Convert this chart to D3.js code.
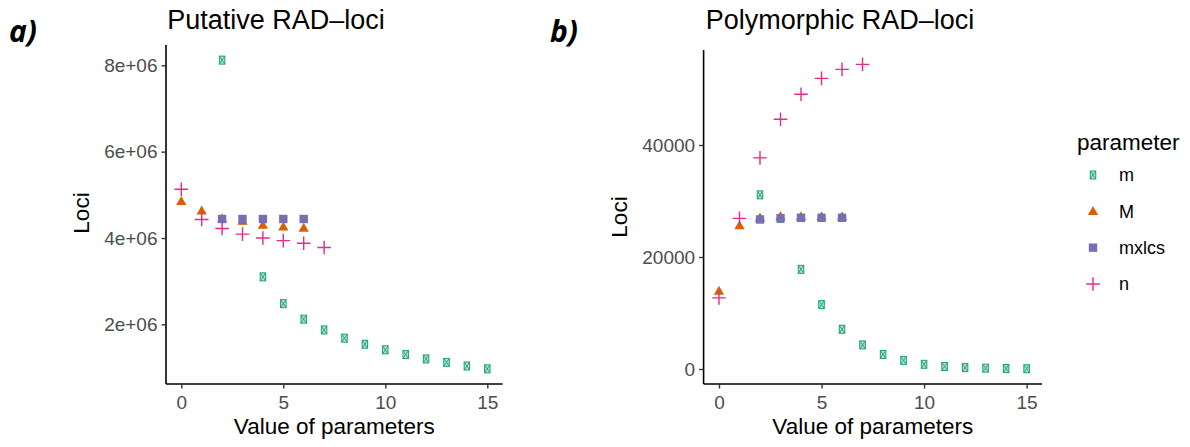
<!DOCTYPE html>
<html><head><meta charset="utf-8">
<script src="https://cdn.jsdelivr.net/npm/d3@7"></script>
<style>body{margin:0;background:#fff}svg{display:block}text{font-family:"Liberation Sans",Arial,sans-serif}</style>
</head><body><svg id="c" width="1190" height="447"></svg>
<script>
const parameters = ["m","M","mxlcs","n"];
const colors = ["#1B9E77","#D95F02","#7570B3","#E7298A"];
// Panel a: Putative RAD-loci
const putM_x = [2,3,4,5,6,7,8,9,10,11,12,13,14,15];
const putM_y = [8.12e6,4.42e6,3.10e6,2.48e6,2.12e6,1.87e6,1.68e6,1.54e6,1.41e6,1.30e6,1.20e6,1.12e6,1.035e6,0.97e6];
const putMM_x = [0,1,2,3,4,5,6];
const putMM_y = [4.85e6,4.63e6,4.45e6,4.39e6,4.30e6,4.26e6,4.23e6];
const putMx_x = [2,3,4,5,6];
const putMx_y = [4.44e6,4.44e6,4.44e6,4.44e6,4.44e6];
const putN_x = [0,1,2,3,4,5,6,7];
const putN_y = [5.13e6,4.43e6,4.22e6,4.09e6,4.0e6,3.94e6,3.88e6,3.78e6];
// Panel b: Polymorphic RAD-loci
const polM_x = [2,3,4,5,6,7,8,9,10,11,12,13,14,15];
const polM_y = [31100,26900,17800,11500,7100,4300,2600,1550,840,450,250,150,80,50];
const polMM_x = [0,1,2,3,4,5,6];
const polMM_y = [13900,25600,27000,27200,27200,27200,27200];
const polMx_x = [2,3,4,5,6];
const polMx_y = [26700,26900,27000,27000,27000];
const polN_x = [0,1,2,3,4,5,6,7];
const polN_y = [12700,26900,37700,44600,49050,51900,53500,54400];

const xTicks = [0,5,10,15];
const yTicksA = [2e6,4e6,6e6,8e6];
const yTicksALabels = ["2e+06","4e+06","6e+06","8e+06"];
const yTicksB = [0,20000,40000];
const yTicksBLabels = ["0","20000","40000"];

const svg = d3.select("#c");
const zip = (xs, ys) => xs.map((x,i)=>({x, y: ys[i]}));

function marker(g, type, color, px, py){
  if(type==="m"){
    const w=5.5,h=8;
    g.append("rect").attr("x",px-w/2).attr("y",py-h/2).attr("width",w).attr("height",h)
      .attr("fill","#b5e2d3").attr("stroke",color).attr("stroke-width",1);
    g.append("path").attr("d",`M${px-w/2},${py-h/2}L${px+w/2},${py+h/2}M${px+w/2},${py-h/2}L${px-w/2},${py+h/2}`)
      .attr("stroke",color).attr("stroke-width",0.9).attr("fill","none");
  } else if(type==="M"){
    const s=4.9;
    g.append("path").attr("d",`M${px},${py-s*1.1}L${px+s*1.05},${py+s*0.75}L${px-s*1.05},${py+s*0.75}Z`).attr("fill",color);
  } else if(type==="mxlcs"){
    const s=8.4;
    g.append("rect").attr("x",px-s/2).attr("y",py-s/2).attr("width",s).attr("height",s).attr("fill",color);
  } else {
    const s=6.8;
    g.append("path").attr("d",`M${px-s},${py}L${px+s},${py}M${px},${py-s}L${px},${py+s}`)
      .attr("stroke",color).attr("stroke-width",1.4).attr("fill","none");
  }
}

function panel(opt){
  const g = svg.append("g");
  const x = d3.scaleLinear().domain([-0.75,15.75]).range(opt.xr);
  const y = d3.scaleLinear().domain(opt.yd).range(opt.yr);
  opt.series.forEach((s,i)=>{
    const pg = g.append("g");
    zip(s[0],s[1]).forEach(d=>marker(pg, parameters[i], colors[i], x(d.x), y(d.y)));
  });
  const ax = g.append("g").attr("transform",`translate(0,${opt.yBottom})`)
    .call(d3.axisBottom(x).tickValues(xTicks).tickSize(4.5).tickPadding(3.5));
  ax.select(".domain").attr("d",`M${opt.xr[0]},0H${opt.xr[1]}`).attr("stroke","#000").attr("stroke-width",1.6);
  ax.selectAll(".tick line").attr("stroke","#333").attr("stroke-width",1.4);
  ax.selectAll(".tick text").attr("fill","#4D4D4D").style("font-size","19px").attr("dy","0.92em")
    .style("font-family",'"Liberation Sans",Arial,sans-serif');
  const ay = g.append("g").attr("transform",`translate(${opt.xr[0]},0)`)
    .call(d3.axisLeft(y).tickValues(opt.yTicks).tickFormat((d,i)=>opt.yLabels[i]).tickSize(4.5).tickPadding(4));
  ay.select(".domain").attr("d",`M0,${opt.yTop}V${opt.yBottom}`).attr("stroke","#000").attr("stroke-width",1.6);
  ay.selectAll(".tick line").attr("stroke","#333").attr("stroke-width",1.4);
  ay.selectAll(".tick text").attr("fill","#4D4D4D").style("font-size","19px")
    .style("font-family",'"Liberation Sans",Arial,sans-serif');
  g.append("text").attr("x",opt.titleX).attr("y",29).attr("text-anchor","middle")
    .style("font-size","27px").attr("fill","#000").text(opt.title);
  g.append("text").attr("x",(opt.xr[0]+opt.xr[1])/2).attr("y",434).attr("text-anchor","middle")
    .style("font-size","22.5px").attr("fill","#000").text("Value of parameters");
  g.append("text").attr("transform",`translate(${opt.ylabX},${opt.ylabY}) rotate(-90)`).attr("text-anchor","middle")
    .style("font-size","22.5px").attr("fill","#000").text("Loci");
  g.append("text").attr("x",opt.tagX).attr("y",42).style("font-family",'"Open Sans",sans-serif')
    .style("font-weight","bold").style("font-style","italic").style("font-size","30px").attr("fill","#000").text(opt.tag);
}

panel({xr:[166,502.6], yd:[0,8e6], yr:[410.7,65.3], yTop:45, yBottom:384,
  yTicks:yTicksA, yLabels:yTicksALabels, title:"Putative RAD\u2013loci", titleX:276,
  ylabX:89, ylabY:213, tag:"a)", tagX:9,
  series:[[putM_x,putM_y],[putMM_x,putMM_y],[putMx_x,putMx_y],[putN_x,putN_y]]});
panel({xr:[703.6,1042], yd:[0,40000], yr:[369,145], yTop:50, yBottom:384,
  yTicks:yTicksB, yLabels:yTicksBLabels, title:"Polymorphic RAD\u2013loci", titleX:840,
  ylabX:627, ylabY:217, tag:"b)", tagX:550,
  series:[[polM_x,polM_y],[polMM_x,polMM_y],[polMx_x,polMx_y],[polN_x,polN_y]]});

const lg = svg.append("g");
lg.append("text").attr("x",1077).attr("y",150).style("font-size","22.5px").attr("fill","#000").text("parameter");
const ly = d3.scalePoint().domain(parameters).range([175,284]);
parameters.forEach((p,i)=>{
  const k = lg.append("g");
  marker(k, p, colors[i], 1093, ly(p));
  lg.append("text").attr("x",1119).attr("y",ly(p)).attr("dy","0.36em").style("font-size","18px").attr("fill","#000").text(p);
});
</script></body></html>
